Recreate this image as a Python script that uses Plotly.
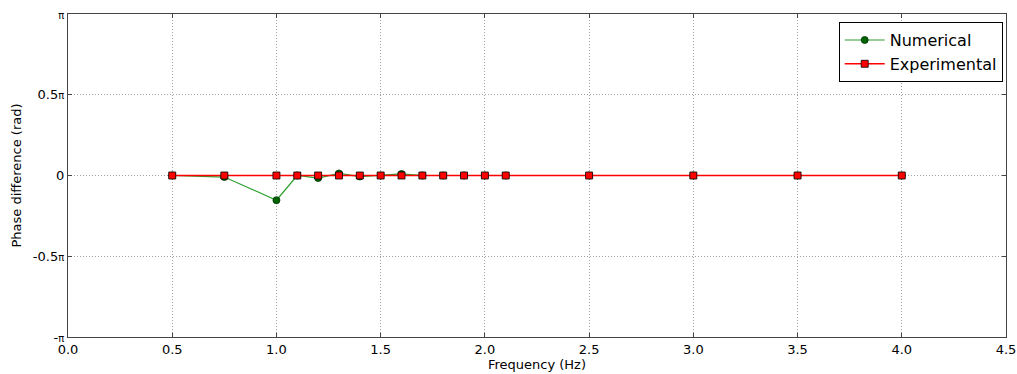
import numpy as np
import plotly.graph_objects as go

freq = [0.5, 0.75, 1.0, 1.1, 1.2, 1.3, 1.4, 1.5, 1.6, 1.7, 1.8, 1.9, 2.0, 2.1, 2.5, 3.0, 3.5, 4.0]
numerical = [0.0, -0.03, -0.48, 0.0, -0.05, 0.04, -0.02, 0.0, 0.03, 0.0, 0.0, 0.0, 0.0, 0.0, 0.0, 0.0, 0.0, 0.0]
experimental = [0.0] * len(freq)

x_ticks = [0.0, 0.5, 1.0, 1.5, 2.0, 2.5, 3.0, 3.5, 4.0, 4.5]
y_tick_mult = [-1, -0.5, 0, 0.5, 1]
pi_small = "<span style='font-size:10px'>π</span>"
y_tick_text = ["-" + pi_small, "-0.5" + pi_small, "0", "0.5" + pi_small, pi_small]

font = "DejaVu Sans, sans-serif"

fig = go.Figure()
fig.add_trace(go.Scatter(
    x=freq, y=numerical, name="Numerical", mode="lines+markers",
    line=dict(color="#2ca02c", width=1.2),
    marker=dict(symbol="circle", size=7, color="#006400", line=dict(color="#003300", width=0.8)),
))
fig.add_trace(go.Scatter(
    x=freq, y=experimental, name="Experimental", mode="lines+markers",
    line=dict(color="#ff0000", width=1.5),
    marker=dict(symbol="square", size=7, color="#ff0000", line=dict(color="#000000", width=0.8)),
))

axis_common = dict(
    showline=True, linecolor="#444444", linewidth=1.3, mirror="ticks",
    ticks="inside", ticklen=4, tickcolor="#444444",
    showgrid=True, gridcolor="#a0a0a0", griddash="1px,2px", gridwidth=1,
    zeroline=False, tickfont=dict(family=font, size=13, color="black"),
    automargin=False,
)

fig.update_xaxes(
    range=[0, 4.5], tickvals=x_ticks, ticktext=[f"{v:.1f}" for v in x_ticks],
    title=dict(text="Frequency (Hz)", font=dict(family=font, size=13, color="black"), standoff=4),
    **axis_common,
)
fig.update_yaxes(
    range=[-np.pi, np.pi], tickvals=[m * np.pi for m in y_tick_mult], ticktext=y_tick_text,
    title=dict(text="Phase difference (rad)", font=dict(family=font, size=13, color="black"), standoff=8),
    **axis_common,
)

fig.update_layout(
    width=1017, height=374,
    margin=dict(l=68, r=11, t=14, b=37),
    plot_bgcolor="white", paper_bgcolor="white",
    font=dict(family=font, size=13, color="black"),
    legend=dict(
        x=0.9965, y=0.975, xanchor="right", yanchor="top",
        bordercolor="black", borderwidth=1, bgcolor="white",
        font=dict(family=font, size=16, color="black"),
        tracegroupgap=0, itemwidth=40,
    ),
    showlegend=True,
)

fig.write_html(
    "out.html",
    config={"displayModeBar": False},
    post_script="document.body.style.margin='0';document.body.style.overflow='hidden';",
)
